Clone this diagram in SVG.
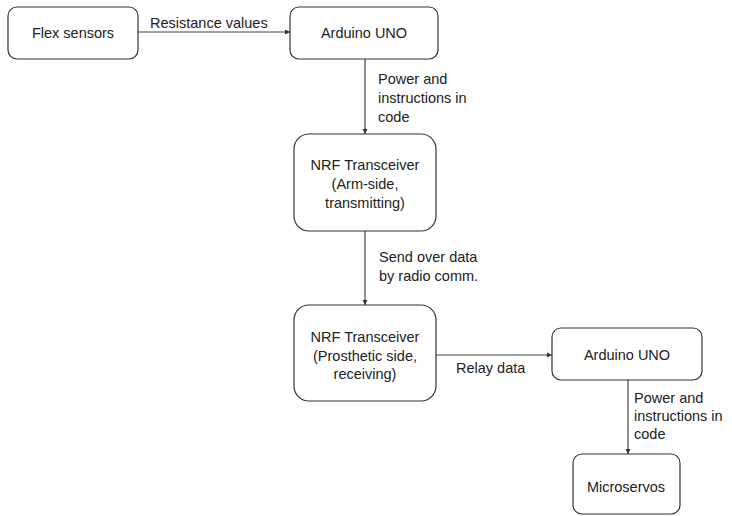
<svg xmlns="http://www.w3.org/2000/svg" width="732" height="516" viewBox="0 0 732 516">
<style>
.box{fill:#fff;stroke:#333;stroke-width:1.2}
.t{font-family:"Liberation Sans",Arial,sans-serif;font-size:14.5px;fill:#222}
.c{text-anchor:middle}
.e{fill:none;stroke:#444;stroke-width:1.2}
</style>
<defs>
<marker id="ah" markerWidth="6" markerHeight="6" refX="5" refY="3" orient="auto" markerUnits="userSpaceOnUse">
<path d="M0,0.5 L5,3 L0,5.5 Z" fill="#333"/>
</marker>
</defs>
<rect width="732" height="516" fill="#fff"/>
<g id="connectors">
<line class="e" x1="138" y1="32" x2="290" y2="32" marker-end="url(#ah)"/>
<text class="t" x="150" y="28">Resistance values</text>
<line class="e" x1="365" y1="59" x2="365" y2="134" marker-end="url(#ah)"/>
<text class="t" x="378" y="84">Power and</text>
<text class="t" x="378" y="103">instructions in</text>
<text class="t" x="378" y="122">code</text>
<line class="e" x1="365" y1="231" x2="365" y2="305" marker-end="url(#ah)"/>
<text class="t" x="379" y="262">Send over data</text>
<text class="t" x="379" y="281">by radio comm.</text>
<line class="e" x1="436" y1="355" x2="552" y2="355" marker-end="url(#ah)"/>
<text class="t" x="456" y="373">Relay data</text>
<line class="e" x1="628" y1="380" x2="628" y2="454" marker-end="url(#ah)"/>
<text class="t" x="634" y="403">Power and</text>
<text class="t" x="634" y="421">instructions in</text>
<text class="t" x="634" y="439">code</text>
</g>
<g id="flex">
<rect class="box" x="8" y="7" width="130" height="52" rx="9"/>
<text class="t c" x="73" y="38">Flex sensors</text>
</g>
<g id="arduino1">
<rect class="box" x="290" y="7" width="148" height="52" rx="9"/>
<text class="t c" x="364" y="38">Arduino UNO</text>
</g>
<g id="nrf1">
<rect class="box" x="294" y="134" width="142" height="97" rx="15"/>
<text class="t c" x="365" y="170">NRF Transceiver</text>
<text class="t c" x="365" y="189">(Arm-side,</text>
<text class="t c" x="365" y="208">transmitting)</text>
</g>
<g id="nrf2">
<rect class="box" x="294" y="305" width="142" height="96" rx="15"/>
<text class="t c" x="365" y="342">NRF Transceiver</text>
<text class="t c" x="365" y="361">(Prosthetic side,</text>
<text class="t c" x="365" y="379">receiving)</text>
</g>
<g id="arduino2">
<rect class="box" x="552" y="328" width="150" height="52" rx="9"/>
<text class="t c" x="627" y="360">Arduino UNO</text>
</g>
<g id="microservos">
<rect class="box" x="573" y="454" width="107" height="60" rx="9"/>
<text class="t c" x="626" y="492">Microservos</text>
</g>
</svg>
